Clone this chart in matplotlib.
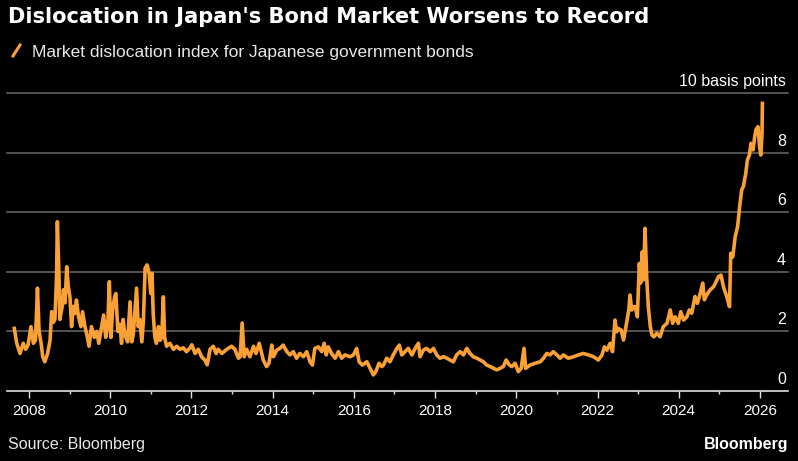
import matplotlib
matplotlib.use('Agg')
import matplotlib.pyplot as plt
from matplotlib.lines import Line2D
from matplotlib.transforms import offset_copy

# 讀取的數值 (年份, 基點)
years = [
    2007.64, 2007.70, 2007.78, 2007.86, 2007.92, 2007.98, 2008.05, 2008.11, 2008.16, 2008.21,
    2008.25, 2008.30, 2008.34, 2008.39, 2008.46, 2008.52, 2008.56, 2008.60, 2008.64, 2008.68,
    2008.70, 2008.74, 2008.76, 2008.82, 2008.85, 2008.89, 2008.93, 2008.97, 2009.01, 2009.05,
    2009.09, 2009.13, 2009.17, 2009.22, 2009.28, 2009.32, 2009.38, 2009.44, 2009.48, 2009.54,
    2009.61, 2009.67, 2009.72, 2009.79, 2009.84, 2009.89, 2009.94, 2009.98, 2010.02, 2010.06,
    2010.11, 2010.14, 2010.19, 2010.24, 2010.28, 2010.32, 2010.36, 2010.43, 2010.49, 2010.53,
    2010.57, 2010.65, 2010.69, 2010.73, 2010.78, 2010.82, 2010.86, 2010.91, 2010.96, 2011.00,
    2011.03, 2011.06, 2011.10, 2011.14, 2011.19, 2011.23, 2011.27, 2011.31, 2011.34, 2011.39,
    2011.47, 2011.56, 2011.64, 2011.72, 2011.80, 2011.88, 2011.97, 2012.01, 2012.09, 2012.17,
    2012.25, 2012.33, 2012.39, 2012.46, 2012.54, 2012.61, 2012.66, 2012.75, 2012.87, 2012.99,
    2013.07, 2013.16, 2013.20, 2013.25, 2013.30, 2013.36, 2013.44, 2013.53, 2013.59, 2013.67,
    2013.77, 2013.85, 2013.91, 2013.98, 2014.02, 2014.10, 2014.18, 2014.26, 2014.35, 2014.43,
    2014.51, 2014.59, 2014.67, 2014.76, 2014.84, 2014.92, 2014.98, 2015.04, 2015.13, 2015.21,
    2015.27, 2015.32, 2015.37, 2015.45, 2015.54, 2015.62, 2015.70, 2015.78, 2015.91, 2015.99,
    2016.07, 2016.13, 2016.21, 2016.32, 2016.40, 2016.48, 2016.54, 2016.62, 2016.69, 2016.73,
    2016.81, 2016.89, 2016.97, 2017.06, 2017.12, 2017.18, 2017.26, 2017.34, 2017.43, 2017.51,
    2017.59, 2017.63, 2017.71, 2017.79, 2017.88, 2017.96, 2018.04, 2018.12, 2018.21, 2018.29,
    2018.37, 2018.45, 2018.53, 2018.62, 2018.70, 2018.78, 2018.86, 2018.94, 2019.03, 2019.11,
    2019.19, 2019.27, 2019.36, 2019.44, 2019.52, 2019.60, 2019.68, 2019.75, 2019.83, 2019.89,
    2019.97, 2020.05, 2020.12, 2020.19, 2020.23, 2020.34, 2020.46, 2020.59, 2020.67, 2020.75,
    2020.83, 2020.91, 2021.00, 2021.08, 2021.16, 2021.28, 2021.41, 2021.53, 2021.65, 2021.78,
    2021.90, 2022.02, 2022.11, 2022.17, 2022.23, 2022.31, 2022.37, 2022.43, 2022.47, 2022.51,
    2022.58, 2022.64, 2022.70, 2022.77, 2022.80, 2022.84, 2022.90, 2022.93, 2022.98, 2023.03,
    2023.06, 2023.10, 2023.13, 2023.17, 2023.21, 2023.25, 2023.30, 2023.34, 2023.39, 2023.46,
    2023.54, 2023.62, 2023.71, 2023.79, 2023.85, 2023.91, 2023.99, 2024.05, 2024.12, 2024.20,
    2024.26, 2024.32, 2024.40, 2024.46, 2024.53, 2024.59, 2024.63, 2024.69, 2024.77, 2024.86,
    2024.92, 2024.98, 2025.04, 2025.10, 2025.18, 2025.25, 2025.28, 2025.33, 2025.39, 2025.45,
    2025.50, 2025.55, 2025.59, 2025.65, 2025.69, 2025.74, 2025.78, 2025.83, 2025.87, 2025.90,
    2025.95, 2025.99, 2026.02, 2026.05, 2026.06,
]
values = [
    2.10, 1.60, 1.26, 1.60, 1.40, 1.55, 2.16, 1.60, 1.70, 3.45,
    2.00, 1.60, 1.15, 0.98, 1.26, 1.70, 2.66, 2.30, 2.40, 3.84,
    5.68, 3.84, 2.40, 2.84, 3.40, 2.96, 4.17, 3.50, 3.16, 2.16,
    2.84, 2.60, 3.05, 2.50, 2.16, 2.66, 2.16, 1.80, 1.50, 2.16,
    1.80, 2.00, 1.60, 2.16, 2.55, 1.80, 2.16, 3.67, 1.80, 2.72,
    3.16, 3.27, 2.00, 2.24, 1.60, 2.40, 1.90, 1.65, 2.99, 1.65,
    1.90, 3.45, 2.16, 2.40, 1.65, 2.40, 4.12, 4.23, 3.95, 3.27,
    3.95, 2.60, 1.80, 1.60, 2.16, 1.70, 1.80, 3.16, 1.80, 1.50,
    1.60, 1.40, 1.50, 1.40, 1.45, 1.32, 1.45, 1.55, 1.26, 1.40,
    1.15, 1.04, 0.88, 1.40, 1.50, 1.26, 1.40, 1.26, 1.40, 1.50,
    1.40, 1.10, 1.15, 2.28, 1.15, 1.40, 1.15, 1.50, 1.26, 1.60,
    1.04, 0.82, 0.93, 1.54, 1.15, 1.37, 1.43, 1.54, 1.32, 1.21,
    1.32, 1.10, 1.26, 1.15, 1.32, 0.98, 0.87, 1.43, 1.48, 1.32,
    1.60, 1.21, 1.48, 1.26, 1.10, 1.32, 1.10, 1.21, 1.15, 1.21,
    1.43, 0.98, 0.87, 0.98, 0.76, 0.54, 0.65, 0.93, 0.82, 0.87,
    1.10, 0.98, 1.21, 1.43, 1.54, 1.21, 1.32, 1.43, 1.21, 1.43,
    1.60, 1.15, 1.37, 1.43, 1.32, 1.43, 1.21, 1.10, 1.15, 1.10,
    1.04, 0.98, 1.21, 1.32, 1.21, 1.43, 1.26, 1.15, 1.10, 1.04,
    0.98, 0.87, 0.82, 0.76, 0.71, 0.76, 0.82, 1.04, 0.87, 0.82,
    0.93, 0.65, 0.76, 1.43, 0.76, 0.87, 0.93, 0.98, 1.10, 1.26,
    1.21, 1.32, 1.21, 1.10, 1.21, 1.10, 1.15, 1.21, 1.26, 1.21,
    1.15, 1.04, 1.21, 1.48, 1.37, 1.60, 1.32, 2.38, 1.99, 2.10,
    2.05, 1.71, 2.16, 2.72, 3.22, 2.72, 2.83, 2.83, 2.49, 4.28,
    3.62, 4.67, 3.73, 5.46, 3.84, 2.83, 2.16, 1.88, 1.82, 1.94,
    1.82, 2.16, 2.27, 2.72, 2.27, 2.49, 2.27, 2.66, 2.38, 2.49,
    2.72, 2.61, 3.17, 2.94, 3.28, 3.62, 3.06, 3.23, 3.39, 3.50,
    3.67, 3.84, 3.89, 3.50, 3.17, 2.83, 4.62, 4.50, 5.18, 5.52,
    6.19, 6.75, 6.86, 7.30, 7.75, 7.92, 8.31, 8.09, 8.53, 8.76,
    8.87, 8.20, 7.92, 8.64, 9.65,
]

x_ticks = [2008, 2010, 2012, 2014, 2016, 2018, 2020, 2022, 2024, 2026]
x_minor = [2009, 2011, 2013, 2015, 2017, 2019, 2021, 2023, 2025]
y_ticks = [0, 2, 4, 6, 8, 10]
y_labels = ['0', '2', '4', '6', '8', '10 basis points']

title = "Dislocation in Japan's Bond Market Worsens to Record"
subtitle = 'Market dislocation index for Japanese government bonds'

plt.rcParams['font.family'] = ['Liberation Sans', 'DejaVu Sans']
orange = '#F9A136'

W, H = 798, 461
fig = plt.figure(figsize=(W / 100, H / 100), dpi=100, facecolor='black')
# 軸的位置 (像素換算)
ax = fig.add_axes([7 / W, 70 / H, 781 / W, 304 / H], facecolor='black')

ax.plot(years, values, color=orange, lw=2.6, solid_joinstyle='round', zorder=3)

ax.set_xlim(2007.46, 2026.69)
ax.set_ylim(0, 10.2)

for s in ['top', 'right', 'left']:
    ax.spines[s].set_visible(False)
ax.spines['bottom'].set_color('#E0E0E0')
ax.spines['bottom'].set_linewidth(1.2)
ax.spines['bottom'].set_zorder(4)

ax.set_xticks(x_ticks)
ax.set_xticklabels([str(t) for t in x_ticks])
ax.set_xticks(x_minor, minor=True)
ax.tick_params(axis='x', which='major', length=5, width=1, color='#E0E0E0',
               labelcolor='white', labelsize=11, pad=4)
ax.tick_params(axis='x', which='minor', length=2.5, width=1, color='#E0E0E0')

ax.set_yticks(y_ticks)
ax.tick_params(axis='y', length=0, labelleft=False)
for y in y_ticks[1:]:
    ax.axhline(y, color='#6A6A6A', lw=1.1, zorder=1, clip_on=False)

lab_tr = offset_copy(ax.get_yaxis_transform(), fig=fig, x=-2, y=7, units='dots')
for y, lab in zip(y_ticks, y_labels):
    ax.text(1.0, y, lab, transform=lab_tr, ha='right', va='baseline',
            color='white', fontsize=11.5)

fig.text(8 / W, 1 - 23 / H, title, color='white', fontsize=15.1,
         fontweight='bold', family='DejaVu Sans', ha='left', va='baseline')
fig.add_artist(Line2D([13 / W, 20 / W], [1 - 56 / H, 1 - 45 / H],
                      color=orange, lw=2.2, transform=fig.transFigure))
fig.text(32 / W, 1 - 57 / H, subtitle, color='#E8E8E8', fontsize=12.5,
         ha='left', va='baseline')
fig.text(8 / W, 1 - 449 / H, 'Source: Bloomberg', color='#E8E8E8',
         fontsize=11.5, ha='left', va='baseline')
fig.text(788 / W, 1 - 449 / H, 'Bloomberg', color='white', fontsize=11.5,
         fontweight='bold', ha='right', va='baseline')

fig.savefig('out.png', dpi=100, facecolor='black')
